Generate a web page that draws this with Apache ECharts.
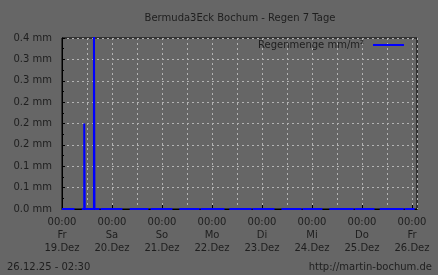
<!DOCTYPE html>
<html>
<head>
<meta charset="utf-8">
<script src="https://cdn.jsdelivr.net/npm/echarts@6/dist/echarts.min.js"></script>
<style>
html,body{margin:0;padding:0;background:#666666;}
#chart{width:438px;height:275px;}
</style>
</head>
<body>
<div id="chart"></div>
<script>
// ---- data ----
const titleText = 'Bermuda3Eck Bochum - Regen 7 Tage';
const seriesName = 'Regenmenge mm/m²';
const footerLeft = '26.12.25 - 02:30';
const footerRight = 'http://martin-bochum.de';
const axisStart = '2025-12-19T00:00';
const axisEnd = '2025-12-26T02:24';
// sample times (null value = no data / gap)
const sampleTimes = [
  '2025-12-19T00:00','2025-12-19T04:00','2025-12-19T06:00',
  '2025-12-19T09:30','2025-12-19T10:40','2025-12-19T10:55','2025-12-19T15:20','2025-12-19T15:35','2025-12-19T18:00','2025-12-19T18:15',
  '2025-12-19T18:30','2025-12-20T03:00','2025-12-20T05:00',
  '2025-12-20T08:30','2025-12-20T17:30','2025-12-20T17:45',
  '2025-12-20T18:30','2025-12-21T02:40','2025-12-21T05:00',
  '2025-12-21T08:20','2025-12-21T18:00','2025-12-21T18:10',
  '2025-12-21T18:30','2025-12-22T04:00','2025-12-22T06:00',
  '2025-12-22T08:20','2025-12-22T18:30','2025-12-22T19:00',
  '2025-12-22T19:30','2025-12-23T04:00','2025-12-23T06:00',
  '2025-12-23T09:20','2025-12-23T19:00','2025-12-23T19:15',
  '2025-12-23T19:30','2025-12-24T03:00','2025-12-24T05:00',
  '2025-12-24T08:20','2025-12-24T20:00','2025-12-24T20:15',
  '2025-12-24T20:30','2025-12-25T04:00','2025-12-25T06:00',
  '2025-12-25T08:30','2025-12-25T20:00','2025-12-25T20:15',
  '2025-12-25T20:30','2025-12-26T01:15'
];
const rainValues = [
  0, 0, null,
  0, 0.2, 0, 0.45, 0, 0, null,
  0, 0, null,
  0, 0, null,
  0, 0, null,
  0, 0, null,
  0, 0, null,
  0, 0, null,
  0, 0, null,
  0, 0, null,
  0, 0, null,
  0, 0, null,
  0, 0, null,
  0, 0, null,
  0, 0, null,
  0, 0
];
const yTickLabels = ['0.0 mm','0.1 mm','0.1 mm','0.2 mm','0.2 mm','0.2 mm','0.3 mm','0.3 mm','0.4 mm'];
const weekdayNames = ['So','Mo','Di','Mi','Do','Fr','Sa'];
const monthNames = ['Jan','Feb','Mär','Apr','Mai','Jun','Jul','Aug','Sep','Okt','Nov','Dez'];

// ---- build ----
const H = 3600000;
const tMin = new Date(axisStart).getTime();
const tMax = new Date(axisEnd).getTime();
const data = sampleTimes.map((t, i) => [new Date(t).getTime(), rainValues[i]]);
const pad = n => (n < 10 ? '0' : '') + n;
const font = 'DejaVu Sans';
const txt = '#1e1e1e';

const chart = echarts.init(document.getElementById('chart'), null, {renderer: 'canvas'});
chart.setOption({
  backgroundColor: '#666666',
  animation: false,
  textStyle: {fontFamily: font},
  grid: {left: 62, right: 21, top: 38, bottom: 66, show: true, borderColor: '#000', borderWidth: 1, backgroundColor: 'transparent'},
  legend: {
    right: 34, top: 40, padding: 0, icon: 'rect', itemWidth: 31, itemHeight: 2, align: 'right',
    textStyle: {fontFamily: font, fontSize: 10, color: txt, padding: [0, 4, 0, 0]},
    data: [seriesName]
  },
  graphic: [
    {type: 'text', x: 240, y: 13, style: {text: titleText, align: 'center', verticalAlign: 'top', fontFamily: font, fontSize: 10, fill: txt}},
    {type: 'text', left: 7, top: 262, style: {text: footerLeft, fontFamily: font, fontSize: 10, fill: txt}},
    {type: 'text', right: 6, top: 262, style: {text: footerRight, fontFamily: font, fontSize: 10, fill: txt}}
  ],
  xAxis: [
    {
      type: 'value', min: tMin, max: tMax, interval: 12 * H,
      axisLine: {show: true, lineStyle: {color: '#000', width: 1}},
      axisTick: {show: false}, axisLabel: {show: false},
      splitLine: {show: true, lineStyle: {color: '#b4b4b4', type: [2, 3], width: 1}}
    },
    {
      type: 'value', min: tMin, max: tMax, interval: 24 * H, position: 'bottom',
      axisLine: {show: false},
      axisTick: {show: true, inside: true, length: 4, lineStyle: {color: '#000'}},
      splitLine: {show: false},
      axisLabel: {
        show: true, margin: 7, fontFamily: font, fontSize: 10, color: txt, lineHeight: 13,
        showMinLabel: true, showMaxLabel: false, hideOverlap: false,
        formatter: v => {
          const d = new Date(v);
          if (v > tMax) return '';
          return pad(d.getHours()) + ':' + pad(d.getMinutes()) + '\n' + weekdayNames[d.getDay()] + '\n' + pad(d.getDate()) + '.' + monthNames[d.getMonth()];
        }
      }
    }
  ],
  yAxis: {
    type: 'value', min: 0, max: 0.4, interval: 0.05,
    axisLine: {show: true, lineStyle: {color: '#000'}},
    axisTick: {show: true, inside: true, length: 3, lineStyle: {color: '#000'}},
    minorTick: {show: true, splitNumber: 2, length: 2, lineStyle: {color: '#000'}},
    splitLine: {show: true, lineStyle: {color: '#b4b4b4', type: [2, 3], width: 1}},
    axisLabel: {
      margin: 10, fontFamily: font, fontSize: 10, color: txt,
      formatter: v => yTickLabels[Math.round(v / 0.05)]
    }
  },
  series: [{
    name: seriesName, type: 'line', xAxisIndex: 0, step: 'end', data: data, z: 5,
    showSymbol: false, connectNulls: false, clip: true,
    lineStyle: {color: '#0000ff', width: 2}, itemStyle: {color: '#0000ff'}
  }]
});
</script>
</body>
</html>
